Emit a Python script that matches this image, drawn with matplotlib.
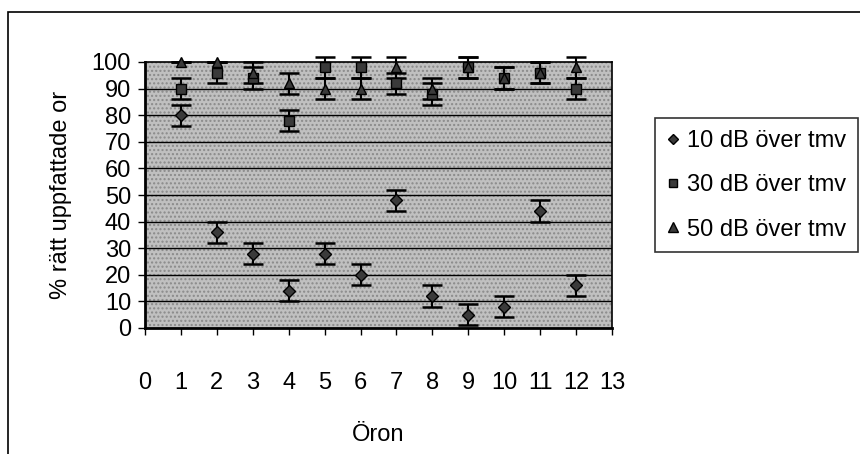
import matplotlib
matplotlib.use("Agg")
import matplotlib.pyplot as plt
from matplotlib.patches import Rectangle
from matplotlib.lines import Line2D

plt.rcParams['font.family'] = ['Liberation Sans', 'DejaVu Sans']

ears = [1, 2, 3, 4, 5, 6, 7, 8, 9, 10, 11, 12]
db10 = [80, 36, 28, 14, 28, 20, 48, 12, 5, 8, 44, 16]
db10_err = [4, 4, 4, 4, 4, 4, 4, 4, 4, 4, 4, 4]
db30 = [90, 96, 94, 78, 98, 98, 92, 88, 98, 94, 96, 90]
db30_err = [4, 4, 4, 4, 4, 4, 4, 4, 4, 4, 4, 4]
db50 = [100, 100, 96, 92, 90, 90, 98, 90, 98, 94, 96, 98]
db50_err = [0, 0, 4, 4, 4, 4, 4, 4, 4, 4, 4, 4]
labels = ['10 dB över tmv', '30 dB över tmv', '50 dB över tmv']
xticks = list(range(0, 14))
yticks = list(range(0, 101, 10))

W, H = 860, 454
FS = 17
fig = plt.figure(figsize=(W / 100, H / 100), dpi=100)
ax = fig.add_axes([145 / W, 1 - 328 / H, (612 - 145) / W, (328 - 62) / H])
ax.set_facecolor('#c0c0c0')
ax.add_patch(Rectangle((0, 0), 1, 1, transform=ax.transAxes, facecolor='none',
                       edgecolor='#8a8a8a', hatch='....', linewidth=0, zorder=0.5))

for y in yticks[1:-1]:
    ax.axhline(y, color='black', lw=1.0, zorder=1)

series = [(db10, db10_err, 'D', 6.5), (db30, db30_err, 's', 6.5), (db50, db50_err, '^', 7.5)]
for (vals, err, m, ms), lab in zip(series, labels):
    ax.errorbar(ears, vals, yerr=err, fmt=m, ms=ms, mfc='#3a3a3a', mec='black',
                ecolor='black', elinewidth=1.5, capsize=7.5, capthick=1.8,
                zorder=3, clip_on=False, label=lab)

ax.set_xlim(0, 13)
ax.set_ylim(0, 100)
ax.set_xticks(xticks)
ax.set_yticks(yticks)
ax.tick_params(axis='x', direction='out', length=5, width=1, pad=27, labelsize=FS)
ax.tick_params(axis='y', direction='out', length=5, width=1, pad=5, labelsize=FS)
for s in ax.spines.values():
    s.set_color('black')
    s.set_linewidth(1.2)
ax.spines['left'].set_linewidth(2)
ax.spines['bottom'].set_linewidth(2)

ax.set_xlabel('Öron', fontsize=FS, labelpad=21)
ax.set_ylabel('% rätt uppfattade or', fontsize=FS, labelpad=14)

handles = [Line2D([], [], ls='none', marker=m, ms=ms - 1, mfc='#3a3a3a', mec='black')
           for (_, _, m, ms) in series]
leg = fig.legend(handles, labels, loc='upper left', bbox_to_anchor=(655 / W, 1 - 118 / H),
                 fontsize=FS, frameon=True, fancybox=False, handlelength=0.5,
                 handletextpad=0.35, borderpad=0.5, labelspacing=0.95, borderaxespad=0)
leg.get_frame().set_edgecolor('black')
leg.get_frame().set_linewidth(1.2)

fig.patches.append(Rectangle((8 / W, -0.1), 1.1, 1 - 12 / H + 0.1, transform=fig.transFigure,
                             facecolor='none', edgecolor='black', lw=1.2, zorder=-1))

fig.savefig('out.png', dpi=100)
